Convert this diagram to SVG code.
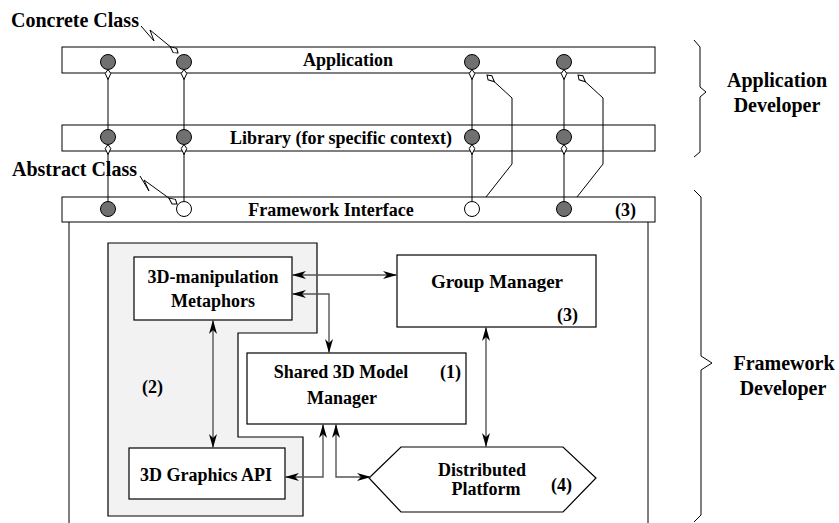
<svg xmlns="http://www.w3.org/2000/svg" width="839" height="523" viewBox="0 0 839 523">
<style>
text{font-family:"Liberation Serif","Times New Roman",serif;font-weight:bold;fill:#000}
.t18{font-size:18px}
.t20{font-size:20px}
.mid{text-anchor:middle}
.bar{fill:#fff;stroke:#000;stroke-width:1}
.box{fill:#fff;stroke:#000;stroke-width:1.2}
.cf{fill:#707070;stroke:#000;stroke-width:1}
.co{fill:#fff;stroke:#000;stroke-width:1}
.ln{fill:none;stroke:#000;stroke-width:1}
.lc{fill:none;stroke:#555;stroke-width:1.4}
</style>
<defs>
<marker id="ah" viewBox="-15 -5 16 10" refX="0" refY="0" markerWidth="16" markerHeight="10" orient="auto-start-reverse" markerUnits="userSpaceOnUse"><path d="M0,0 L-14,-4 L-10,0 L-14,4 z" fill="#000"/></marker>
<marker id="ho" viewBox="-12 -4 13 8" refX="0" refY="0" markerWidth="13" markerHeight="8" orient="auto" markerUnits="userSpaceOnUse"><path d="M0,0 L-4,-2.8 L-10,0 L-4,2.8 z" fill="#fff" stroke="#000" stroke-width="1"/></marker>
</defs>

<g id="frame">
<path class="ln" d="M69,222 V523 M648,222 V523"/>
</g>

<g id="application">
<rect class="bar" x="62" y="47" width="593" height="26"/>
<text class="t18 mid" x="348" y="66">Application</text>
<circle class="cf" cx="108" cy="62" r="7.5"/>
<circle class="cf" cx="184" cy="62" r="7.5"/>
<circle class="cf" cx="472" cy="62" r="7.5"/>
<circle class="cf" cx="564" cy="62" r="7.5"/>
</g>

<g id="library">
<rect class="bar" x="62" y="125" width="593" height="26"/>
<text class="t18 mid" x="341" y="144">Library (for specific context)</text>
<circle class="cf" cx="108" cy="137" r="7.5"/>
<circle class="cf" cx="184" cy="137" r="7.5"/>
<circle class="cf" cx="472" cy="137" r="7.5"/>
<circle class="cf" cx="564" cy="137" r="7.5"/>
</g>

<g id="framework-interface">
<rect class="bar" x="62" y="197" width="593" height="25"/>
<text class="t18 mid" x="331" y="216">Framework Interface</text>
<text class="t18" x="615" y="216">(3)</text>
<circle class="cf" cx="108" cy="209" r="7.5"/>
<circle class="co" cx="184" cy="209" r="7.5"/>
<circle class="co" cx="472" cy="209" r="7.5"/>
<circle class="cf" cx="564" cy="209" r="7.5"/>
</g>

<g id="labels">
<text class="t20" x="11" y="27">Concrete Class</text>
<text class="t20" x="12" y="176">Abstract Class</text>
<text class="t20 mid" x="777" y="87">Application</text>
<text class="t20 mid" x="777" y="112">Developer</text>
<text class="t20 mid" x="784" y="370">Framework</text>
<text class="t20 mid" x="783" y="395">Developer</text>
</g>

<g id="braces">
<path class="ln" d="M694,40 L700,47 V87 L706,92 L700,97 V152 L694,157"/>
<path class="ln" d="M694,190 L701,197 V356 L712,363 L701,370 V515 L694,522"/>
</g>

<g id="region2">
<path d="M108,243 H317 V333 H238 V437 H303 V516 H108 Z" fill="#f2f2f2" stroke="#000" stroke-width="1.2"/>
<text class="t18" x="142" y="393">(2)</text>
</g>

<g id="metaphors">
<rect class="box" x="134" y="257" width="158" height="63"/>
<text class="t18 mid" x="213" y="283">3D-manipulation</text>
<text class="t18 mid" x="213" y="307">Metaphors</text>
</g>

<g id="graphics-api">
<rect class="box" x="129" y="448" width="156" height="51"/>
<text class="t18 mid" x="206" y="481">3D Graphics API</text>
</g>

<g id="shared-model">
<rect class="box" x="247" y="353" width="219" height="71"/>
<text class="t18 mid" x="341" y="378">Shared 3D Model</text>
<text class="t18 mid" x="342" y="404">Manager</text>
<text class="t18" x="440" y="378">(1)</text>
</g>

<g id="group-manager">
<rect class="box" x="397" y="255" width="199" height="72"/>
<text class="t18 mid" x="497" y="288" style="font-size:19px">Group Manager</text>
<text class="t18" x="557" y="321">(3)</text>
</g>

<g id="distributed-platform">
<path class="box" d="M369,478 L401,447 H563 L596,478 L563,512 H401 Z"/>
<text class="t18 mid" x="482" y="476">Distributed</text>
<text class="t18 mid" x="486" y="495">Platform</text>
<text class="t18" x="551" y="491">(4)</text>
</g>

<g id="connectors">
<path class="ln" d="M108,201.5 V144.5" marker-end="url(#ho)"/>
<path class="ln" d="M108,129.5 V69.5" marker-end="url(#ho)"/>
<path class="ln" d="M184,201.5 V144.5" marker-end="url(#ho)"/>
<path class="ln" d="M184,129.5 V69.5" marker-end="url(#ho)"/>
<path class="ln" d="M472,201.5 V144.5" marker-end="url(#ho)"/>
<path class="ln" d="M472,129.5 V69.5" marker-end="url(#ho)"/>
<path class="ln" d="M564,201.5 V144.5" marker-end="url(#ho)"/>
<path class="ln" d="M564,129.5 V69.5" marker-end="url(#ho)"/>
<path class="ln" d="M486,197 L512,164 V98 L487,75" marker-end="url(#ho)"/>
<path class="ln" d="M577,197 L603,164 V98 L578,75" marker-end="url(#ho)"/>
<path class="ln" d="M141,26 L154,41 L150,30 L178,53" marker-end="url(#ho)"/>
<path class="ln" d="M140,176 L149,191 L144,180 L177,204" marker-end="url(#ho)"/>
<path class="lc" d="M292,275 H397" marker-start="url(#ah)" marker-end="url(#ah)"/>
<path class="lc" d="M292,294 H329 V353" marker-start="url(#ah)" marker-end="url(#ah)"/>
<path class="lc" d="M213,320 V448" marker-start="url(#ah)" marker-end="url(#ah)"/>
<path class="lc" d="M285,477 H323 V424" marker-start="url(#ah)" marker-end="url(#ah)"/>
<path class="lc" d="M336,424 V477 H371" marker-start="url(#ah)" marker-end="url(#ah)"/>
<path class="lc" d="M486,327 V447" marker-start="url(#ah)" marker-end="url(#ah)"/>
</g>
</svg>
